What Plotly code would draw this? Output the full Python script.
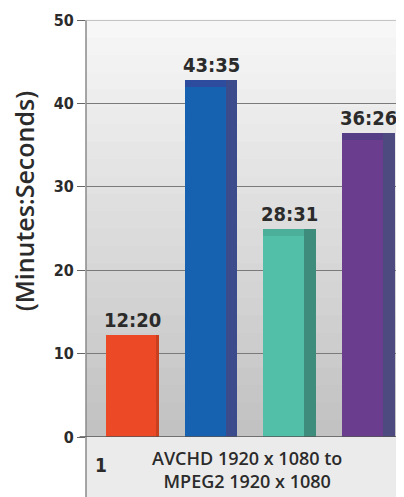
import plotly.graph_objects as go

# ---- data ----
positions = [1, 2, 3, 4]
bar_heights = [12.2, 42.8, 24.9, 36.4]          # bar heights as drawn (minutes)
bar_labels = ["12:20", "43:35", "28:31", "36:26"]
y_ticks = [0, 10, 20, 30, 40, 50]
y_title = "(Minutes:Seconds)"
group_number = "1"
group_label = "AVCHD 1920 x 1080 to<br>MPEG2 1920 x 1080"

# ---- styles ----
face_colors = ["#EC4A26", "#1761B1", "#52C0A9", "#6A3D8F"]
side_colors = ["#C9401F", "#3C4B8C", "#3E8C7C", "#4C4A7E"]
top_colors = ["#EC3224", "#2E4C9E", "#4BAF99", "#553E85"]
face_w = [0.64, 0.52, 0.52, 0.52]
face_off = [-0.336, -0.336, -0.336, -0.336]
side_w = [0.03, 0.15, 0.15, 0.15]
side_off = [0.304, 0.184, 0.184, 0.184]
top_h = [0.0, 0.8, 0.8, 0.8]

FONT = "DejaVu Sans Condensed"
TXT = "#2B2B2B"

fig = go.Figure()
fig.add_trace(go.Bar(x=positions, y=bar_heights, width=face_w, offset=face_off,
                     marker=dict(color=face_colors, line=dict(width=0)),
                     hoverinfo="skip", showlegend=False))
fig.add_trace(go.Bar(x=positions, y=bar_heights, width=side_w, offset=side_off,
                     marker=dict(color=side_colors, line=dict(width=0)),
                     hoverinfo="skip", showlegend=False))
fig.add_trace(go.Bar(x=positions, y=top_h,
                     base=[h - t for h, t in zip(bar_heights, top_h)],
                     width=face_w, offset=face_off,
                     marker=dict(color=top_colors, line=dict(width=0)),
                     hoverinfo="skip", showlegend=False))

for xp, h, lab in zip(positions, bar_heights, bar_labels):
    fig.add_annotation(x=xp, y=h, text=f"<b>{lab}</b>", showarrow=False,
                       yanchor="bottom", yshift=1,
                       font=dict(family=FONT, size=20, color=TXT))

# background gradient of plot area
n = 24
top_c = (247, 247, 247)
bot_c = (194, 194, 194)
for i in range(n):
    t = i / (n - 1)
    c = tuple(int(bot_c[k] + (top_c[k] - bot_c[k]) * t) for k in range(3))
    fig.add_shape(type="rect", xref="x domain", yref="y domain",
                  x0=0, x1=1, y0=i / n, y1=(i + 1) / n + 0.002,
                  fillcolor="rgb(%d,%d,%d)" % c, line=dict(width=0), layer="below")

# bottom label area
fig.add_shape(type="rect", xref="paper", yref="paper", x0=0, x1=1, y0=-0.16, y1=0,
              fillcolor="#EBEBEB", line=dict(width=0), layer="below")
fig.add_shape(type="line", xref="paper", yref="paper", x0=0, x1=0, y0=-0.16, y1=1,
              line=dict(color="#8A8A8A", width=1.5))
fig.add_shape(type="line", xref="paper", yref="y", x0=-0.02, x1=1, y0=0, y1=0,
              line=dict(color="#555555", width=1.5))
fig.add_shape(type="line", xref="paper", yref="y", x0=0, x1=1, y0=50, y1=50,
              line=dict(color="#B4B4B4", width=1.5))

fig.add_annotation(xref="paper", yref="paper", x=0.047, y=-0.067,
                   xanchor="center", yanchor="middle",
                   text=f"<b>{group_number}</b>",
                   showarrow=False, font=dict(family=FONT, size=19, color=TXT))
fig.add_annotation(xref="paper", yref="paper", x=0.505, y=-0.077,
                   xanchor="center", yanchor="middle", text=group_label,
                   showarrow=False, font=dict(family="Open Sans", size=18, weight=600, color=TXT),
                   align="center")

# y-axis title
fig.add_annotation(xref="paper", yref="paper", x=-0.194, y=0.566,
                   xanchor="center", yanchor="middle", textangle=-90,
                   text=y_title, showarrow=False, borderpad=0,
                   font=dict(family="Open Sans", size=25, weight=600, color=TXT))

fig.update_layout(
    width=396, height=489,
    margin=dict(l=78, r=0, t=12, b=60, autoexpand=False),
    paper_bgcolor="white", plot_bgcolor="#DDDDDD",
    bargap=0, barmode="overlay",
    xaxis=dict(range=[0.409, 4.45], showticklabels=False, showgrid=False,
               zeroline=False, ticks="", fixedrange=True),
    yaxis=dict(range=[0, 50], tickvals=y_ticks, ticktext=[f"<b>{v}</b>" for v in y_ticks],
               ticks="outside", ticklen=8, tickcolor="#666666", tickwidth=1.2,
               tickfont=dict(family=FONT, size=16, color=TXT),
               showgrid=True, gridcolor="#7A7A7A", gridwidth=1.2,
               zeroline=False, showline=False, automargin=False),
)

fig.write_html("out.html")
